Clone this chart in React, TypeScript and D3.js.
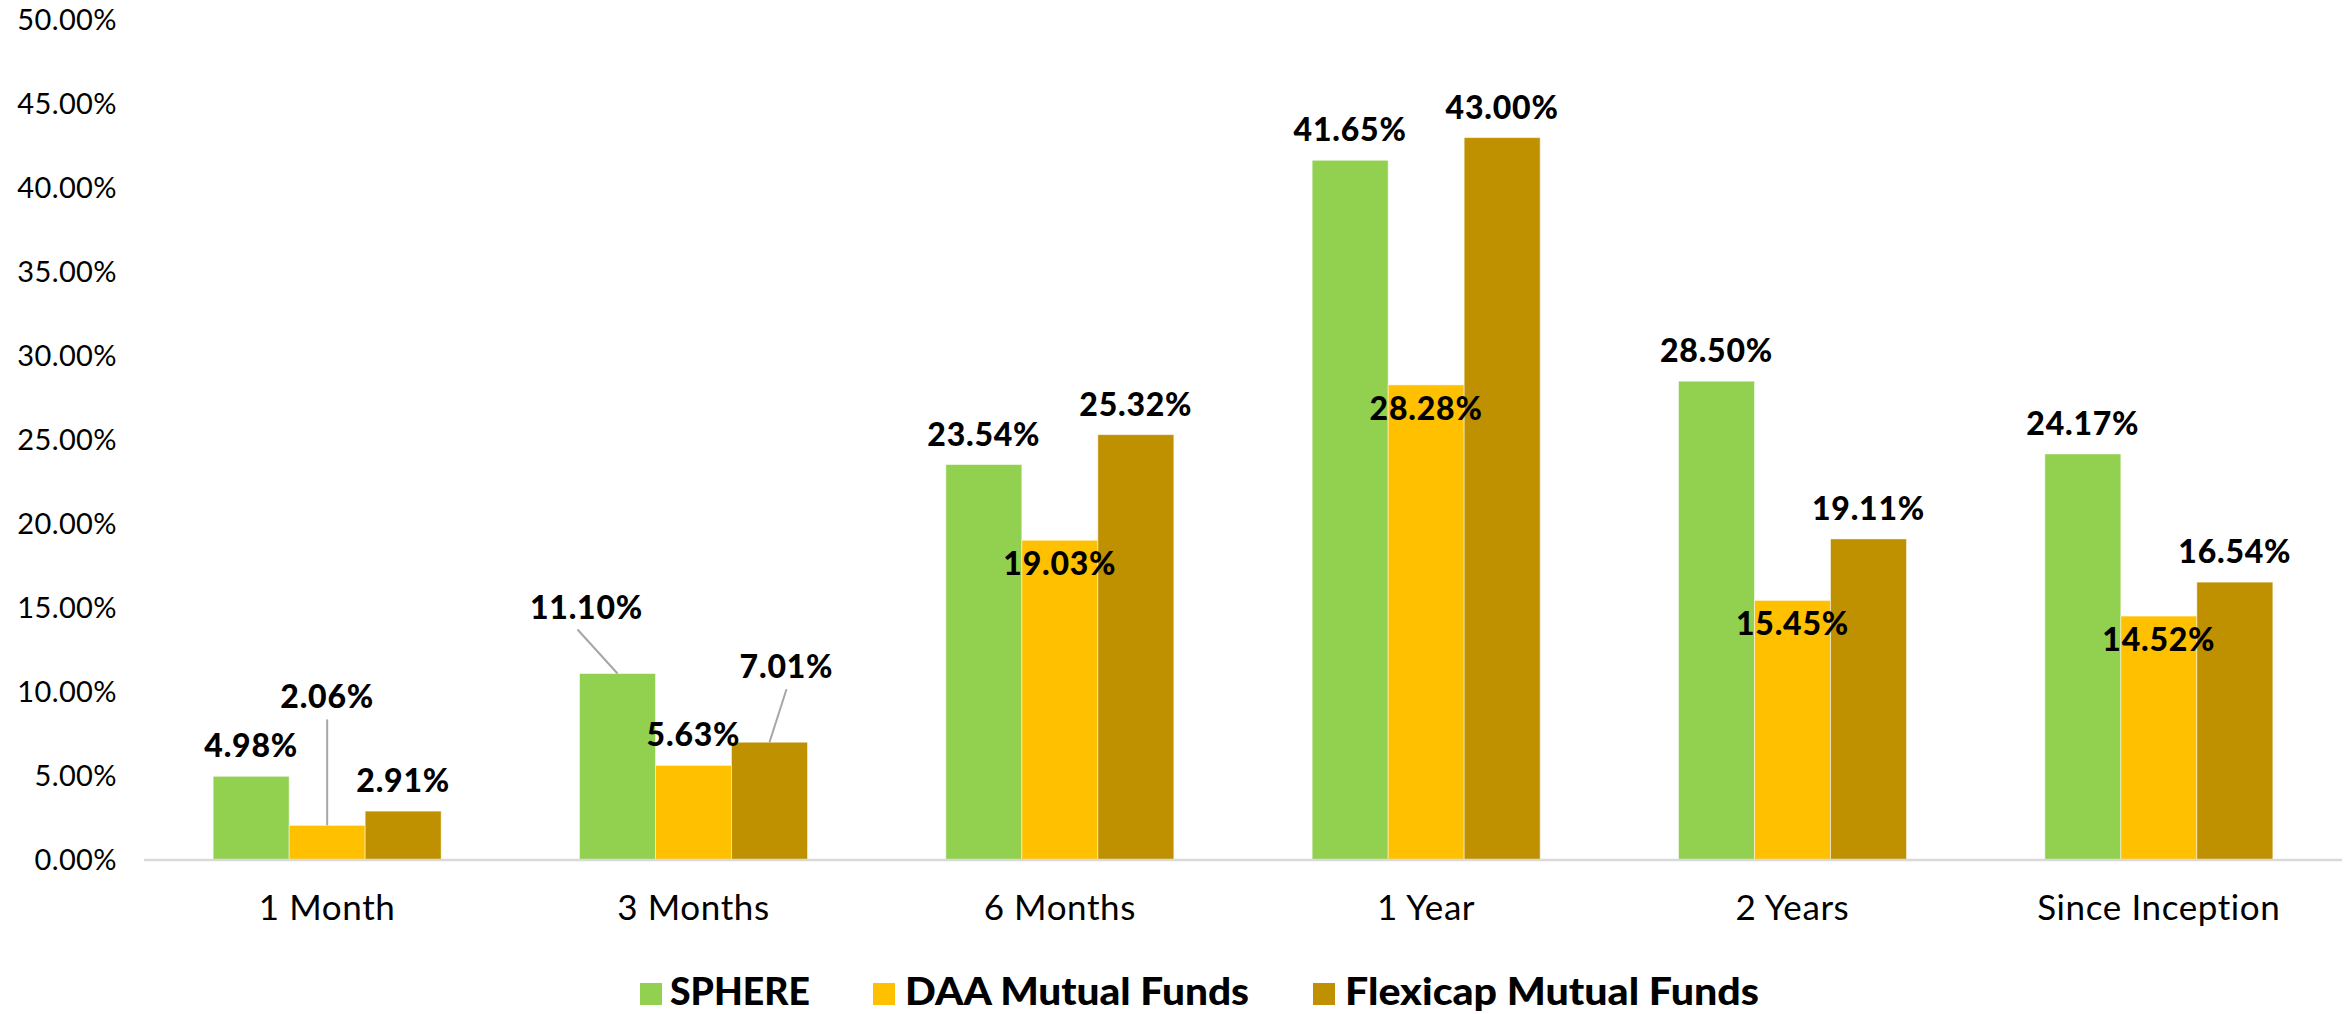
import React, { useEffect } from "react";
import * as d3 from "d3";

const categories = ["1 Month", "3 Months", "6 Months", "1 Year", "2 Years", "Since Inception"];
const seriesNames = ["SPHERE", "DAA Mutual Funds", "Flexicap Mutual Funds"];
const sphereValues = [4.98, 11.1, 23.54, 41.65, 28.5, 24.17];
const daaValues = [2.06, 5.63, 19.03, 28.28, 15.45, 14.52];
const flexicapValues = [2.91, 7.01, 25.32, 43.0, 19.11, 16.54];
const yTickValues = [0, 5, 10, 15, 20, 25, 30, 35, 40, 45, 50];

const seriesColors = ["#92D050", "#FFC000", "#BF9000"];

// label placement modes per series/category (styling config, not data)
type Place = { mode: "above" | "inside" | "leader"; dx?: number; dy?: number; lx?: number };
const sphereLabelPlace: Place[] = [
  { mode: "above" },
  { mode: "leader", dx: -31, dy: -55, lx: -9 },
  { mode: "above" },
  { mode: "above" },
  { mode: "above" },
  { mode: "above" },
];
const daaLabelPlace: Place[] = [
  { mode: "leader", dx: 0, dy: -117, lx: 0 },
  { mode: "above" },
  { mode: "inside" },
  { mode: "inside" },
  { mode: "inside" },
  { mode: "inside" },
];
const flexLabelPlace: Place[] = [
  { mode: "above" },
  { mode: "leader", dx: 17, dy: -64, lx: 0 },
  { mode: "above" },
  { mode: "above" },
  { mode: "above" },
  { mode: "above" },
];

const W = 2346;
const H = 1014;
const FONT = "Lato, 'Noto Sans', sans-serif";

export default function App() {
  useEffect(() => {
    document.body.style.margin = "0";
  }, []);

  const seriesValues = [sphereValues, daaValues, flexicapValues];
  const places = [sphereLabelPlace, daaLabelPlace, flexLabelPlace];

  const x0 = d3.scaleBand<string>().domain(categories).range([144, 2342]).paddingInner(0).paddingOuter(0);
  const bw = x0.bandwidth();
  const groupW = bw * 0.6224;
  const x1 = d3.scaleBand<string>().domain(seriesNames).range([0, groupW]).padding(0);
  const y = d3.scaleLinear().domain([0, 50]).range([860, 20]);
  const fmt = (v: number) => v.toFixed(2) + "%";

  const legendSquares = [640, 873, 1313];
  const legendTextX = [670, 905, 1345];
  const legendTextLen = [140, 344, 414];

  return (
    <svg width={W} height={H} style={{ display: "block", background: "#fff" }} fontFamily={FONT}>
      {/* y tick labels */}
      {yTickValues.map((t) => (
        <text key={t} x={117} y={y(t)} dy="0.36em" textAnchor="end" fontSize={29} fill="#000" letterSpacing={0.4}>
          {t.toFixed(2) + "%"}
        </text>
      ))}
      {/* bars */}
      {categories.map((c, ci) =>
        seriesNames.map((s, si) => {
          const v = seriesValues[si][ci];
          const bx = (x0(c) as number) + (bw - groupW) / 2 + (x1(s) as number);
          return (
            <rect
              key={c + s}
              x={bx}
              y={y(v)}
              width={x1.bandwidth()}
              height={y(0) - y(v)}
              fill={seriesColors[si]}
              stroke="#ffffff"
              strokeOpacity={0.5}
              strokeWidth={1}
            />
          );
        })
      )}
      {/* axis line */}
      <line x1={144} x2={2342} y1={y(0)} y2={y(0)} stroke="#D9D9D9" strokeWidth={2.5} />
      {/* category labels */}
      {categories.map((c) => (
        <text key={c} x={(x0(c) as number) + bw / 2} y={920} textAnchor="middle" fontSize={35} fill="#000" letterSpacing={0.6}>
          {c}
        </text>
      ))}
      {/* data labels */}
      {categories.map((c, ci) =>
        seriesNames.map((s, si) => {
          const v = seriesValues[si][ci];
          const cx = (x0(c) as number) + (bw - groupW) / 2 + (x1(s) as number) + x1.bandwidth() / 2;
          const top = y(v);
          const p = places[si][ci];
          let lx = cx;
          let ly = top - 19;
          let leader = null;
          if (p.mode === "inside") ly = top + 35;
          if (p.mode === "leader") {
            lx = cx + (p.dx || 0);
            ly = top + (p.dy || 0);
            leader = (
              <line
                x1={lx + (p.lx || 0)}
                y1={ly + 11}
                x2={cx}
                y2={top}
                stroke="#A6A6A6"
                strokeWidth={2}
              />
            );
          }
          return (
            <g key={"l" + c + s}>
              {leader}
              <text x={lx} y={ly} textAnchor="middle" fontSize={32} fontWeight={900} fill="#000" letterSpacing={0.8}>
                {fmt(v)}
              </text>
            </g>
          );
        })
      )}
      {/* legend */}
      {seriesNames.map((s, si) => (
        <g key={"lg" + s}>
          <rect x={legendSquares[si]} y={983} width={22} height={22} fill={seriesColors[si]} />
          <text
            x={legendTextX[si]}
            y={1005}
            fontSize={37}
            fontWeight={900}
            fill="#000"
            textLength={legendTextLen[si]}
            lengthAdjust="spacingAndGlyphs"
          >
            {s}
          </text>
        </g>
      ))}
    </svg>
  );
}
